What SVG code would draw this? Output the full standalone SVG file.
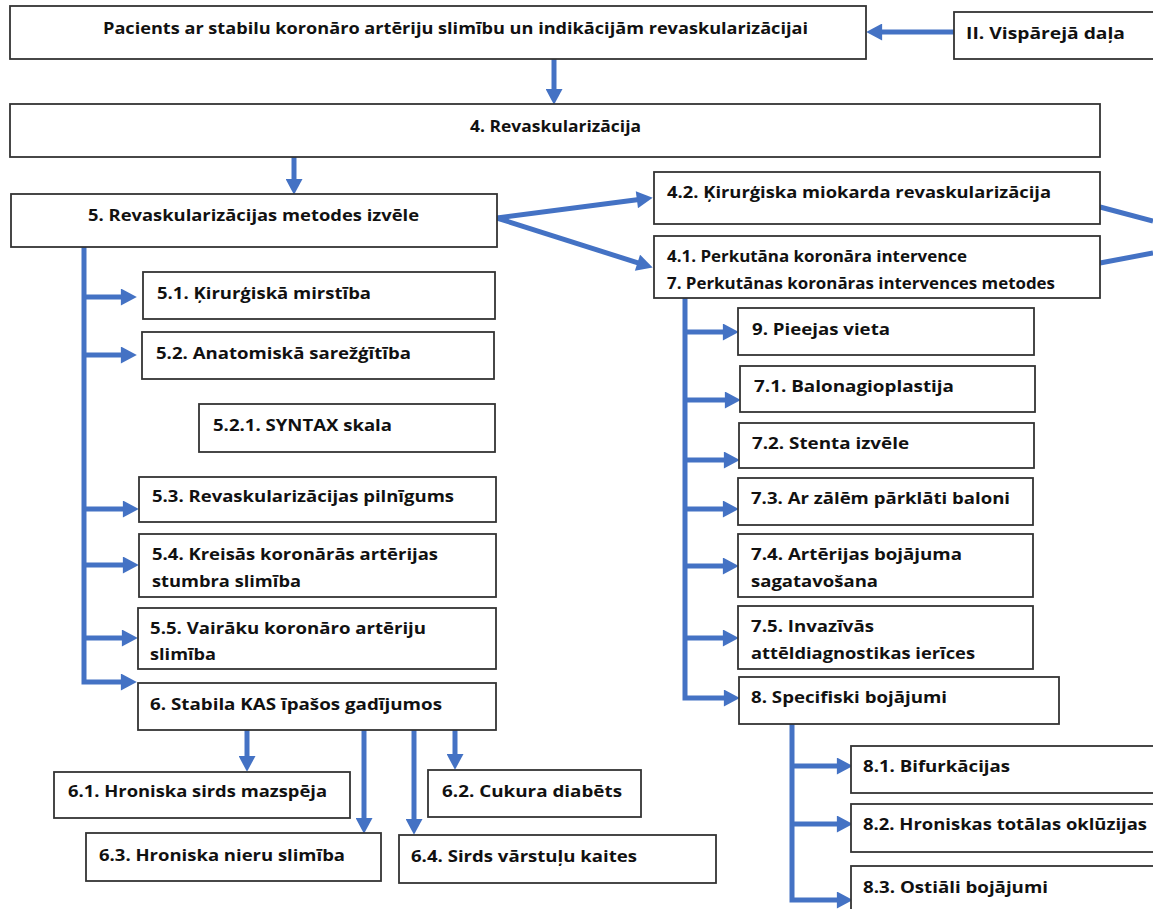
<svg xmlns="http://www.w3.org/2000/svg" width="1153" height="909" viewBox="0 0 1153 909">
<style>
.b{fill:#fff;stroke:#333;stroke-width:1.8}
.t{font-family:"Open Sans","Liberation Sans",sans-serif;font-weight:700;font-size:16.5px;fill:#111}
.c{fill:none;stroke:#4472C4;stroke-width:5}
</style>
<defs>
<marker id="ah" markerUnits="userSpaceOnUse" markerWidth="17" markerHeight="17" viewBox="0 0 15 16" refX="2" refY="8" orient="auto">
<path d="M0,0 L15,8 L0,16 z" fill="#4472C4"/>
</marker>
</defs>
<rect width="1153" height="909" fill="#fff"/>

<g id="connectors">
<path class="c" d="M954,32 H880" marker-end="url(#ah)"/>
<path class="c" d="M554,59 V91" marker-end="url(#ah)"/>
<path class="c" d="M294,157 V181" marker-end="url(#ah)"/>
<path class="c" d="M497,218 L639,199.5" marker-end="url(#ah)"/>
<path class="c" d="M497,218 L639.5,263.4" marker-end="url(#ah)"/>
<path class="c" d="M1100,207 L1153,221"/>
<path class="c" d="M1100,263 L1153,253"/>
<path class="c" d="M84,245 V682 H123" marker-end="url(#ah)"/>
<path class="c" d="M84,297 H123" marker-end="url(#ah)"/>
<path class="c" d="M84,355 H123" marker-end="url(#ah)"/>
<path class="c" d="M84,509 H125" marker-end="url(#ah)"/>
<path class="c" d="M84,565 H125" marker-end="url(#ah)"/>
<path class="c" d="M84,638 H124" marker-end="url(#ah)"/>
<path class="c" d="M247,730 V758" marker-end="url(#ah)"/>
<path class="c" d="M364,730 V820" marker-end="url(#ah)"/>
<path class="c" d="M414,730 V821" marker-end="url(#ah)"/>
<path class="c" d="M455,728 V756" marker-end="url(#ah)"/>
<path class="c" d="M685,292 V698 H726" marker-end="url(#ah)"/>
<path class="c" d="M685,332 H725" marker-end="url(#ah)"/>
<path class="c" d="M685,400 H727" marker-end="url(#ah)"/>
<path class="c" d="M685,460 H726" marker-end="url(#ah)"/>
<path class="c" d="M685,509 H725" marker-end="url(#ah)"/>
<path class="c" d="M685,566 H725" marker-end="url(#ah)"/>
<path class="c" d="M685,638 H725" marker-end="url(#ah)"/>
<path class="c" d="M792,724 V900 H839" marker-end="url(#ah)"/>
<path class="c" d="M792,766 H839" marker-end="url(#ah)"/>
<path class="c" d="M792,824 H839" marker-end="url(#ah)"/>
</g>

<g id="n-top"><rect class="b" x="10" y="6" width="856" height="53"/><text class="t" x="103" y="34" textLength="705" lengthAdjust="spacingAndGlyphs">Pacients ar stabilu koronāro artēriju slimību un indikācijām revaskularizācijai</text></g>
<g id="n-II"><rect class="b" x="954" y="12" width="210" height="47"/><text class="t" x="966" y="39" textLength="159" lengthAdjust="spacingAndGlyphs">II. Vispārejā daļa</text></g>
<g id="n-4"><rect class="b" x="10" y="104" width="1090" height="53"/><text class="t" x="470" y="132" textLength="171" lengthAdjust="spacingAndGlyphs">4. Revaskularizācija</text></g>
<g id="n-5"><rect class="b" x="11" y="194" width="486" height="53"/><text class="t" x="88" y="221" textLength="331" lengthAdjust="spacingAndGlyphs">5. Revaskularizācijas metodes izvēle</text></g>
<g id="n-4-2"><rect class="b" x="654" y="172" width="446" height="52"/><text class="t" x="667" y="198" textLength="384" lengthAdjust="spacingAndGlyphs">4.2. Ķirurģiska miokarda revaskularizācija</text></g>
<g id="n-4-1"><rect class="b" x="654" y="236" width="446" height="62"/><text class="t" x="667" y="262" textLength="300" lengthAdjust="spacingAndGlyphs">4.1. Perkutāna koronāra intervence</text><text class="t" x="667" y="289" textLength="388" lengthAdjust="spacingAndGlyphs">7. Perkutānas koronāras intervences metodes</text></g>

<g id="n-5-1"><rect class="b" x="143" y="272" width="352" height="47"/><text class="t" x="157" y="299" textLength="214" lengthAdjust="spacingAndGlyphs">5.1. Ķirurģiskā mirstība</text></g>
<g id="n-5-2"><rect class="b" x="142" y="332" width="352" height="47"/><text class="t" x="156" y="359" textLength="255" lengthAdjust="spacingAndGlyphs">5.2. Anatomiskā sarežģītība</text></g>
<g id="n-5-2-1"><rect class="b" x="199" y="404" width="296" height="48"/><text class="t" x="213" y="431" textLength="179" lengthAdjust="spacingAndGlyphs">5.2.1. SYNTAX skala</text></g>
<g id="n-5-3"><rect class="b" x="139" y="477" width="357" height="45"/><text class="t" x="152" y="502" textLength="302" lengthAdjust="spacingAndGlyphs">5.3. Revaskularizācijas pilnīgums</text></g>
<g id="n-5-4"><rect class="b" x="139" y="534" width="357" height="63"/><text class="t" x="152" y="560" textLength="286" lengthAdjust="spacingAndGlyphs">5.4. Kreisās koronārās artērijas</text><text class="t" x="152" y="587" textLength="149" lengthAdjust="spacingAndGlyphs">stumbra slimība</text></g>
<g id="n-5-5"><rect class="b" x="138" y="608" width="358" height="61"/><text class="t" x="150" y="634" textLength="276" lengthAdjust="spacingAndGlyphs">5.5. Vairāku koronāro artēriju</text><text class="t" x="150" y="660" textLength="66" lengthAdjust="spacingAndGlyphs">slimība</text></g>
<g id="n-6"><rect class="b" x="138" y="683" width="358" height="47"/><text class="t" x="150" y="710" textLength="292" lengthAdjust="spacingAndGlyphs">6. Stabila KAS īpašos gadījumos</text></g>
<g id="n-6-1"><rect class="b" x="54" y="772" width="296" height="46"/><text class="t" x="68" y="797" textLength="259" lengthAdjust="spacingAndGlyphs">6.1. Hroniska sirds mazspēja</text></g>
<g id="n-6-2"><rect class="b" x="428" y="770" width="213" height="47"/><text class="t" x="442" y="797" textLength="180" lengthAdjust="spacingAndGlyphs">6.2. Cukura diabēts</text></g>
<g id="n-6-3"><rect class="b" x="86" y="833" width="295" height="48"/><text class="t" x="99" y="861" textLength="246" lengthAdjust="spacingAndGlyphs">6.3. Hroniska nieru slimība</text></g>
<g id="n-6-4"><rect class="b" x="399" y="835" width="317" height="48"/><text class="t" x="411" y="862" textLength="226" lengthAdjust="spacingAndGlyphs">6.4. Sirds vārstuļu kaites</text></g>

<g id="n-9"><rect class="b" x="738" y="308" width="296" height="47"/><text class="t" x="752" y="335" textLength="138" lengthAdjust="spacingAndGlyphs">9. Pieejas vieta</text></g>
<g id="n-7-1"><rect class="b" x="740" y="366" width="295" height="46"/><text class="t" x="754" y="392" textLength="200" lengthAdjust="spacingAndGlyphs">7.1. Balonagioplastija</text></g>
<g id="n-7-2"><rect class="b" x="739" y="423" width="295" height="45"/><text class="t" x="752" y="449" textLength="157" lengthAdjust="spacingAndGlyphs">7.2. Stenta izvēle</text></g>
<g id="n-7-3"><rect class="b" x="738" y="478" width="295" height="47"/><text class="t" x="751" y="504" textLength="259" lengthAdjust="spacingAndGlyphs">7.3. Ar zālēm pārklāti baloni</text></g>
<g id="n-7-4"><rect class="b" x="738" y="534" width="295" height="63"/><text class="t" x="751" y="560" textLength="211" lengthAdjust="spacingAndGlyphs">7.4. Artērijas bojājuma</text><text class="t" x="751" y="587" textLength="127" lengthAdjust="spacingAndGlyphs">sagatavošana</text></g>
<g id="n-7-5"><rect class="b" x="738" y="606" width="295" height="63"/><text class="t" x="751" y="632" textLength="123" lengthAdjust="spacingAndGlyphs">7.5. Invazīvās</text><text class="t" x="751" y="659" textLength="224" lengthAdjust="spacingAndGlyphs">attēldiagnostikas ierīces</text></g>
<g id="n-8"><rect class="b" x="739" y="677" width="320" height="47"/><text class="t" x="751" y="703" textLength="196" lengthAdjust="spacingAndGlyphs">8. Specifiski bojājumi</text></g>
<g id="n-8-1"><rect class="b" x="851" y="746" width="320" height="47"/><text class="t" x="863" y="772" textLength="147" lengthAdjust="spacingAndGlyphs">8.1. Bifurkācijas</text></g>
<g id="n-8-2"><rect class="b" x="851" y="804" width="320" height="48"/><text class="t" x="863" y="830" textLength="284" lengthAdjust="spacingAndGlyphs">8.2. Hroniskas totālas oklūzijas</text></g>
<g id="n-8-3"><rect class="b" x="851" y="866" width="320" height="60"/><text class="t" x="863" y="893" textLength="185" lengthAdjust="spacingAndGlyphs">8.3. Ostiāli bojājumi</text></g>
</svg>
